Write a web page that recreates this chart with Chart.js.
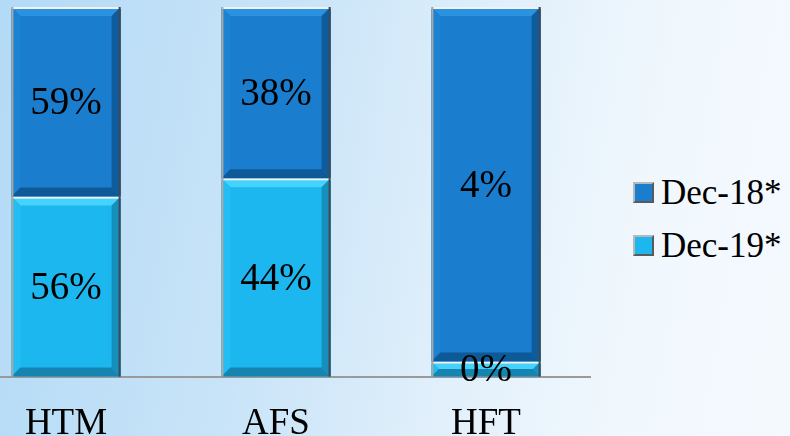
<!DOCTYPE html>
<html>
<head>
<meta charset="utf-8">
<script src="https://cdn.jsdelivr.net/npm/chart.js@4/dist/chart.umd.min.js"></script>
<style>
  html, body { margin: 0; padding: 0; }
  #wrap {
    position: relative; width: 790px; height: 436px; overflow: hidden;
    background: linear-gradient(100deg, #b3daf6 0%, #c9e4f8 35%, #e2f0fb 60%, #f1f8fd 80%, #f4f9fe 100%);
  }
  #chart { position: absolute; left: -39px; top: 0; }
  #legend { position: absolute; left: 633px; top: 166px; font-family: "Liberation Serif", serif; font-size: 35px; color: #000; }
  #legend .item { display: flex; align-items: center; height: 53px; }
  #legend .box {
    width: 17px; height: 17px; margin-right: 7px;
    border: 2px solid; border-color: #b8b8b8 #5a5a5a #5a5a5a #b8b8b8;
  }
</style>
</head>
<body>
<div id="wrap">
  <canvas id="chart" width="630" height="471"></canvas>
  <div id="legend"></div>
</div>
<script>
// ===== data =====
const categories = ["HTM", "AFS", "HFT"];
const seriesNames = ["Dec-18*", "Dec-19*"];
const dec18Values = [59, 38, 4];
const dec19Values = [56, 44, 0.17];

const dec18Color = "#1a7dcd";
const dec19Color = "#1bb7ee";

// 100% stacked: share of each segment in the column
const shareOf = (a, b) => a.map((v, i) => v / (v + b[i]) * 100);

// bevel edges like the original 3D bars
const bevelPlugin = {
  id: "bevel",
  afterDatasetsDraw(chart) {
    const ctx = chart.ctx;
    chart.data.datasets.forEach((ds, di) => {
      const meta = chart.getDatasetMeta(di);
      meta.data.forEach(bar => {
        const x0 = bar.x - bar.width / 2, x1 = bar.x + bar.width / 2;
        const top = Math.min(bar.y, bar.base), bottom = Math.max(bar.y, bar.base);
        const b = Math.min(9, (bottom - top) / 2);
        const shades = ds.bevel;
        const poly = (pts, col) => {
          ctx.beginPath();
          ctx.moveTo(pts[0][0], pts[0][1]);
          pts.slice(1).forEach(p => ctx.lineTo(p[0], p[1]));
          ctx.closePath();
          ctx.fillStyle = col;
          ctx.fill();
        };
        ctx.save();
        poly([[x0, top], [x1, top], [x1 - b, top + b], [x0 + b, top + b]], shades.top);
        poly([[x0, top], [x0 + b, top + b], [x0 + b, bottom - b], [x0, bottom]], shades.left);
        poly([[x1, top], [x1, bottom], [x1 - b, bottom - b], [x1 - b, top + b]], shades.right);
        poly([[x0, bottom], [x0 + b, bottom - b], [x1 - b, bottom - b], [x1, bottom]], shades.bottom);
        // edges
        ctx.fillStyle = "#f2f2f2";
        ctx.fillRect(x0, top, x1 - x0, 2);
        ctx.fillStyle = "#a8a8a8";
        ctx.fillRect(x0, top, 2, bottom - top);
        ctx.fillStyle = "#3c4a55";
        ctx.fillRect(x1 - 2, top, 2, bottom - top);
        ctx.restore();
      });
    });
  }
};

// value labels in the middle of each segment
const labelPlugin = {
  id: "segLabels",
  afterDatasetsDraw(chart) {
    const ctx = chart.ctx;
    ctx.save();
    ctx.font = "39px 'Liberation Serif'";
    ctx.fillStyle = "#000";
    ctx.textAlign = "center";
    ctx.textBaseline = "middle";
    chart.data.datasets.forEach((ds, di) => {
      chart.getDatasetMeta(di).data.forEach((bar, i) => {
        const txt = Math.round(ds.raw[i]) + "%";
        ctx.fillText(txt, bar.x, (bar.y + bar.base) / 2 + 2);
      });
    });
    ctx.restore();
  }
};

const chart = new Chart(document.getElementById("chart"), {
  type: "bar",
  data: {
    labels: categories,
    datasets: [
      {
        label: seriesNames[1],
        data: shareOf(dec19Values, dec18Values),
        raw: dec19Values,
        backgroundColor: dec19Color,
        bevel: { top: "#45d2fb", left: "#22bdf2", right: "#1590bd", bottom: "#1584b0" }
      },
      {
        label: seriesNames[0],
        data: shareOf(dec18Values, dec19Values),
        raw: dec18Values,
        backgroundColor: dec18Color,
        bevel: { top: "#2a92e0", left: "#1c82d3", right: "#0f5c9c", bottom: "#0e5a98" }
      }
    ]
  },
  options: {
    responsive: false,
    animation: false,
    layout: { padding: { top: 7, bottom: 8, left: 0, right: 0 } },
    datasets: { bar: { categoryPercentage: 1, barPercentage: 0.52 } },
    plugins: { legend: { display: false }, tooltip: { enabled: false } },
    scales: {
      x: {
        stacked: true,
        grid: { display: false },
        border: { display: true, color: "#9a9a9a", width: 2 },
        ticks: { color: "#000", padding: 17, font: { family: "Liberation Serif", size: 37 } }
      },
      y: { stacked: true, display: false, min: 0, max: 100 }
    }
  },
  plugins: [bevelPlugin, labelPlugin]
});

// legend (Dec-18* first, as in the original)
const legendEl = document.getElementById("legend");
chart.data.datasets.slice().reverse().forEach(ds => {
  const item = document.createElement("div");
  item.className = "item";
  item.innerHTML = `<span class="box" style="background:${ds.backgroundColor}"></span><span>${ds.label}</span>`;
  legendEl.appendChild(item);
});
</script>
</body>
</html>
